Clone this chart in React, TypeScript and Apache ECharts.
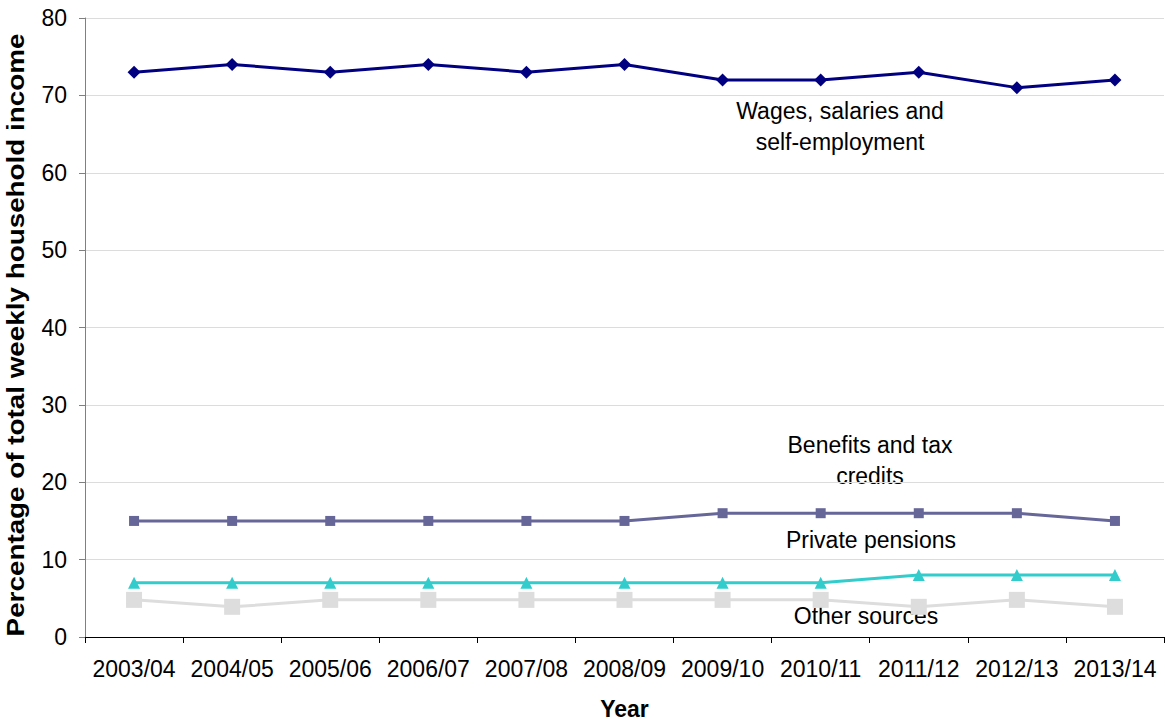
import React, { useEffect, useRef } from "react";
import * as echarts from "echarts";

const years = ["2003/04", "2004/05", "2005/06", "2006/07", "2007/08", "2008/09", "2009/10", "2010/11", "2011/12", "2012/13", "2013/14"];
const wages = [73, 74, 73, 74, 73, 74, 72, 72, 73, 71, 72];
const benefits = [15, 15, 15, 15, 15, 15, 16, 16, 16, 16, 15];
const pensions = [7, 7, 7, 7, 7, 7, 7, 7, 8, 8, 8];
const other = [4.8, 3.9, 4.8, 4.8, 4.8, 4.8, 4.8, 4.8, 3.9, 4.8, 3.9];
const yTicks = [0, 10, 20, 30, 40, 50, 60, 70, 80];

const FONT = "Liberation Sans, Arial, sans-serif";

export default function App() {
  const ref = useRef<HTMLDivElement>(null);
  useEffect(() => {
    if (!ref.current) return;
    const chart = echarts.init(ref.current, null, { renderer: "svg" });
    const label = (text: string, x: number, y: number) => ({
      type: "text",
      x,
      y,
      style: { text, font: `23px ${FONT}`, fill: "#000", align: "center", verticalAlign: "middle", lineHeight: 31 },
    });
    chart.setOption({
      animation: false,
      backgroundColor: "#fff",
      textStyle: { fontFamily: FONT },
      grid: { left: 85, right: 1, top: 18, bottom: 82, containLabel: false },
      xAxis: {
        type: "category",
        data: years,
        boundaryGap: true,
        name: "Year",
        nameLocation: "middle",
        nameGap: 60,
        nameTextStyle: { fontSize: 23, fontWeight: "bold", color: "#000", fontFamily: FONT },
        axisLine: { lineStyle: { color: "#000", width: 1 } },
        axisTick: { show: true, interval: 0, alignWithLabel: false, length: 6, lineStyle: { color: "#000" } },
        axisLabel: { interval: 0, fontSize: 23, color: "#000", margin: 20, fontFamily: FONT },
        splitLine: { show: false },
      },
      yAxis: {
        type: "value",
        min: 0,
        max: 80,
        interval: 10,
        axisLine: { show: true, lineStyle: { color: "#808080", width: 1 } },
        axisTick: { show: true, length: 6, lineStyle: { color: "#808080" } },
        axisLabel: {
          fontSize: 23,
          color: "#000",
          margin: 18,
          fontFamily: FONT,
          formatter: (v: number) => (yTicks.includes(v) ? String(v) : ""),
        },
        splitLine: { show: true, lineStyle: { color: "#dcdcdc", width: 1 } },
      },
      series: [
        {
          name: "Other sources",
          type: "line",
          data: other,
          symbol: "rect",
          symbolSize: 16,
          lineStyle: { color: "#dddddd", width: 3 },
          itemStyle: { color: "#dddddd" },
          z: 2,
        },
        {
          name: "Private pensions",
          type: "line",
          data: pensions,
          symbol: "triangle",
          symbolSize: 12,
          lineStyle: { color: "#33cccc", width: 3 },
          itemStyle: { color: "#33cccc" },
          z: 3,
        },
        {
          name: "Benefits and tax credits",
          type: "line",
          data: benefits,
          symbol: "rect",
          symbolSize: 10,
          lineStyle: { color: "#666699", width: 3 },
          itemStyle: { color: "#666699" },
          z: 4,
        },
        {
          name: "Wages, salaries and self-employment",
          type: "line",
          data: wages,
          symbol: "diamond",
          symbolSize: 13,
          lineStyle: { color: "#000080", width: 3 },
          itemStyle: { color: "#000080" },
          z: 5,
        },
      ],
      graphic: [
        label("Wages, salaries and\nself-employment", 840, 126),
        label("Benefits and tax\ncredits", 870, 460),
        label("Private pensions", 871, 540),
        label("Other sources", 866, 616),
        {
          type: "text",
          x: 16,
          y: 335,
          rotation: Math.PI / 2,
          scaleX: 1.21,
          style: {
            text: "Percentage of total weekly household income",
            font: `bold 23px ${FONT}`,
            fill: "#000",
            align: "center",
            verticalAlign: "middle",
          },
        },
      ],
    });
    return () => chart.dispose();
  }, []);
  return <div ref={ref} style={{ position: "fixed", left: 0, top: 0, width: 1165, height: 725 }} />;
}
